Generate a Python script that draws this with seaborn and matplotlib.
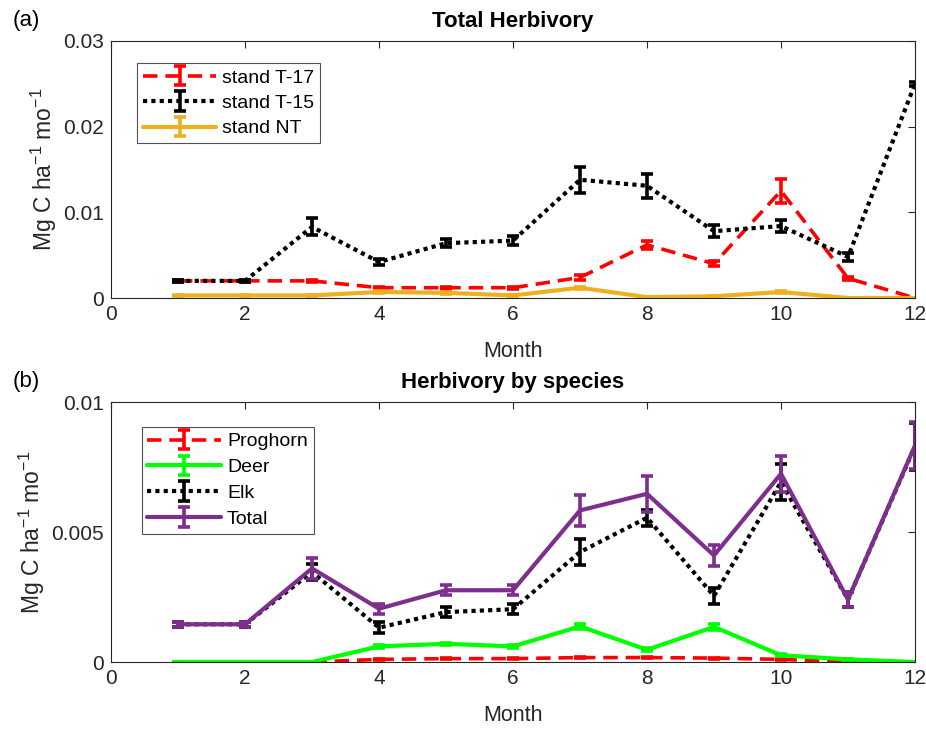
import numpy as np
import pandas as pd
import matplotlib
matplotlib.use("Agg")
import matplotlib.pyplot as plt
import seaborn as sns

months = list(range(1, 13))

# Panel (a): Total herbivory
t17 = [0.0020, 0.0020, 0.0020, 0.0012, 0.0012, 0.0012, 0.0024, 0.0062, 0.0040, 0.0125, 0.0023, 0.0000]
t17_err = [0.0001, 0.0001, 0.0001, 0.0001, 0.0001, 0.0001, 0.0003, 0.0005, 0.0003, 0.0014, 0.0002, 0.0000]
t15 = [0.0020, 0.0020, 0.0083, 0.0042, 0.0064, 0.0067, 0.0138, 0.0131, 0.0078, 0.0084, 0.0048, 0.0250]
t15_err = [0.0001, 0.0001, 0.0010, 0.0004, 0.0005, 0.0005, 0.0015, 0.0014, 0.0007, 0.0007, 0.0005, 0.0002]
nt = [0.0003, 0.0003, 0.0003, 0.0007, 0.0006, 0.0003, 0.0012, 0.0001, 0.0002, 0.0007, 0.0000, 0.0000]
nt_err = [0.0001, 0.0001, 0.0001, 0.0001, 0.0001, 0.0001, 0.0001, 0.0000, 0.0000, 0.0001, 0.0000, 0.0000]

# Panel (b): Herbivory by species
proghorn = [0.0, 0.0, 0.0, 0.0001, 0.00013, 0.00013, 0.00017, 0.00017, 0.00015, 0.0001, 0.0, 0.0]
proghorn_err = [0.0, 0.0, 0.0, 0.00002, 0.00002, 0.00002, 0.00002, 0.00002, 0.00002, 0.00002, 0.0, 0.0]
deer = [0.0, 0.0, 0.0, 0.0006, 0.0007, 0.0006, 0.00137, 0.00047, 0.00135, 0.00026, 0.0001, 0.0]
deer_err = [0.0, 0.0, 0.0, 0.00005, 0.00005, 0.00005, 0.0001, 0.00005, 0.0001, 0.00003, 0.00001, 0.0]
elk = [0.00145, 0.00145, 0.00346, 0.00132, 0.00192, 0.00203, 0.00423, 0.00555, 0.00254, 0.00692, 0.0024, 0.0083]
elk_err = [0.0001, 0.0001, 0.0003, 0.0002, 0.0002, 0.0002, 0.0005, 0.0003, 0.0003, 0.0007, 0.0003, 0.0009]
total = [0.00145, 0.00145, 0.0036, 0.00205, 0.00276, 0.00276, 0.00583, 0.00647, 0.0041, 0.00724, 0.0024, 0.00833]
total_err = [0.0001, 0.0001, 0.0004, 0.0002, 0.0002, 0.0002, 0.0006, 0.0007, 0.0004, 0.0007, 0.0003, 0.0009]

sns.set_theme(style="white")
plt.rcParams['font.family'] = ['Liberation Sans', 'DejaVu Sans']
plt.rcParams['mathtext.fontset'] = 'custom'
plt.rcParams['mathtext.rm'] = 'Liberation Sans'
plt.rcParams['mathtext.it'] = 'Liberation Sans'

RED = '#FF0000'
BLACK = '#000000'
ORANGE = '#EDB120'
GREEN = '#00FF00'
PURPLE = '#7E2F8E'
TXT = '#262626'

fig = plt.figure(figsize=(9.26, 7.29), dpi=100)
L, W = 111 / 926, 804 / 926
ax1 = fig.add_axes([L, 1 - 298 / 729, W, 257 / 729])
ax2 = fig.add_axes([L, 1 - 662 / 729, W, 260 / 729])

styles = {
    'dash': dict(linestyle=(0, (4, 2.2)), lw=2.6),
    'dot': dict(linestyle=(0, (1, 1.0)), lw=3.0),
    'solid': dict(linestyle='-', lw=3.0),
}
EB = dict(elinewidth=2.6, capsize=4, capthick=2.6)


def draw(ax, y, err, color, style):
    df = pd.DataFrame({'Month': months, 'val': y})
    sns.lineplot(data=df, x='Month', y='val', ax=ax, color=color, legend=False,
                 **styles[style])
    ax.errorbar(months, y, yerr=err, fmt='none', ecolor=color, **EB)
    proxy = ax.errorbar([np.nan], [np.nan], yerr=[np.nan], color=color,
                        ecolor=color, **styles[style], **EB)
    return proxy


def style_axes(ax, ylim, yticks, yticklabels, title, panel):
    ax.set_xlim(0, 12)
    ax.set_ylim(*ylim)
    ax.set_xticks(range(0, 13, 2))
    ax.set_yticks(yticks)
    ax.set_yticklabels(yticklabels)
    ax.tick_params(direction='in', top=True, right=True, length=5, width=0.8,
                   labelsize=15, colors=TXT, labelcolor=TXT, pad=5)
    for s in ax.spines.values():
        s.set_color(TXT)
        s.set_linewidth(0.8)
    ax.set_xlabel('Month', fontsize=15.5, color=TXT, labelpad=12)
    ax.set_ylabel(r'Mg C ha$^{-1}$ mo$^{-1}$', fontsize=16.5, color=TXT, labelpad=3)
    ax.set_title(title, fontsize=16, fontweight='bold', color='#000000', pad=10)
    ax.text(-0.1225, 1.04, panel, transform=ax.transAxes, fontsize=16,
            color='#000000', ha='left', va='bottom')


def add_legend(ax, handles, labels, anchor, spacing):
    leg = ax.legend(handles, labels, loc='upper left', bbox_to_anchor=anchor,
                    fontsize=14, frameon=True, fancybox=False, edgecolor=TXT,
                    handlelength=3.8, handletextpad=0.3, borderpad=0.3,
                    labelspacing=spacing, borderaxespad=0)
    leg.get_frame().set_linewidth(0.8)
    for t in leg.get_texts():
        t.set_color('#000000')
    return leg


hs = [draw(ax1, t17, t17_err, RED, 'dash'),
      draw(ax1, t15, t15_err, BLACK, 'dot'),
      draw(ax1, nt, nt_err, ORANGE, 'solid')]
style_axes(ax1, (0, 0.03), [0, 0.01, 0.02, 0.03], ['0', '0.01', '0.02', '0.03'],
           'Total Herbivory', '(a)')
add_legend(ax1, hs, ['stand T-17', 'stand T-15', 'stand NT'], (0.032, 0.914), 0.4)

hs = [draw(ax2, proghorn, proghorn_err, RED, 'dash'),
      draw(ax2, deer, deer_err, GREEN, 'solid'),
      draw(ax2, elk, elk_err, BLACK, 'dot'),
      draw(ax2, total, total_err, PURPLE, 'solid')]
style_axes(ax2, (0, 0.01), [0, 0.005, 0.01], ['0', '0.005', '0.01'],
           'Herbivory by species', '(b)')
add_legend(ax2, hs, ['Proghorn', 'Deer', 'Elk', 'Total'], (0.038, 0.904), 0.42)

fig.savefig('out.png', dpi=100)
